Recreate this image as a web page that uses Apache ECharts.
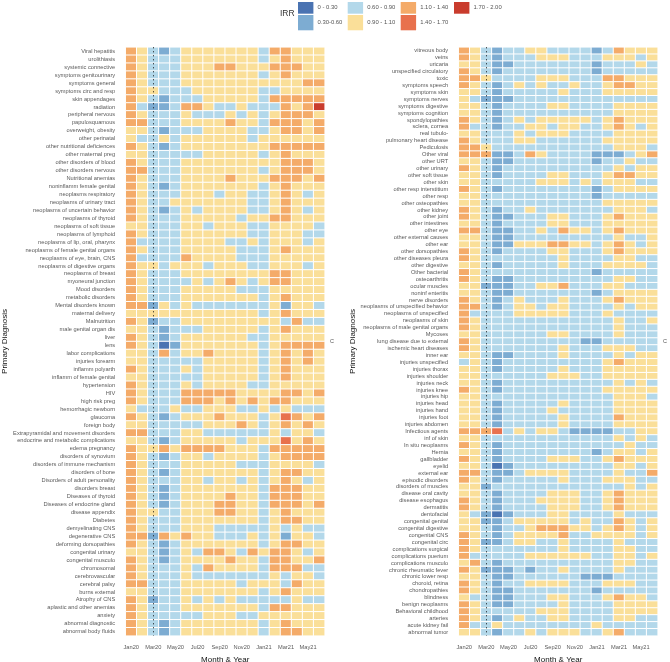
<!DOCTYPE html>
<html><head><meta charset="utf-8">
<style>html,body{margin:0;padding:0;background:#fff}#c{width:670px;height:662px}</style>
<script src="https://cdn.jsdelivr.net/npm/echarts@6/dist/echarts.min.js"></script>
</head><body><div id="c"></div>
<script>
const months = ['Jan20','Feb20','Mar20','Apr20','May20','Jun20','Jul20','Aug20','Sep20','Oct20','Nov20','Dec20','Jan21','Feb21','Mar21','Apr21','May21','Jun21'];
const binLabels = ['0 - 0.30','0.30-0.60','0.60 - 0.90','0.90 - 1.10','1.10 - 1.40','1.40 - 1.70','1.70 - 2.00'];
const binEdges = [0,0.3,0.6,0.9,1.1,1.4,1.7,2.0];
const binColors = ['#4a73b2','#7dacd2','#b3d8ea','#fadf99','#f4ab69','#e8714d','#c93c2d'];
const binMid = {1:0.2,2:0.45,3:0.75,4:1.0,5:1.25,6:1.55,7:1.85};

const leftNames = ['Viral hepatitis','urolithiasis','systemic connective','symptoms genitourinary','symptoms general','symptoms circ and resp','skin appendages','radiation','peripheral nervous','papulosquamous','overweight, obesity','other perinatal','other nutritional deficiences','other maternal preg','other disorders of blood','other disorders nervous','Nutritional anemias','noninflamm female genital','neoplasms respiratory','neoplasms of urinary tract','neoplasms of uncertain behavior','neoplasms of thyroid','neoplasms of soft tissue','neoplasms of lymphoid','neoplasms of lip, oral, pharynx','neoplasms of female genital organs','neoplasms of eye, brain, CNS','neoplasms of digestive organs','neoplasms of breast','myoneural junction','Mood disorders','metabolic disorders','Mental disorders known','maternal delivery','Malnutrition','male genital organ dis','liver','lens','labor complications','injuries forearm','inflamm polyarth','inflamm of female genital','hypertension','HIV','high risk preg','hemorrhagic newborn','glaucoma','foreign body','Extrapyramidal and movement disorders','endocrine and metabolic complications','edema pregnancy','disorders of synovium','disorders of immune mechanism','disorders of bone','Disorders of adult personality','disorders breast','Diseases of thyroid','Diseases of endocrine gland','disease appendix','Diabetes','demyelinating CNS','degenerative CNS','deforming dorsopathies','congenital urinary','congenital musculo','chromosomal','cerebrovascular','cerebral palsy','burns external','Atrophy of CNS','aplastic and other anemias','anxiety','abnormal diagnostic','abnormal body fluids'];
const leftBins = ['543234444444355444','543334444444345444','543334445544455544','543334444444345444','543334444444444455','544333444444334444','543233344444355555','532235543343335457','543334333434345554','553334444544355545','443233344443345545','433434444443444444','543234444444455555','443333344444345444','543334444444445554','553334444444345554','543334444544455545','543234444444345444','543334443443345434','543344444443345444','543234344443345434','543334444434455444','443334434443344443','543334444443344433','533334444334344434','543334444433345444','533335444433344444','544344434443344434','543334444444455444','543333434543455444','543334444433344444','543334444444345444','552434333333342443','444444444444345444','542334444444443533','443233344444345444','543234444443344444','543124444444345555','443534454444345454','443333344444345454','543334344444345444','443333344444345444','543334344443344444','543335555544445545','543335554545455444','433343344433434333','543234445444346545','443333344454345454','553334433333343443','443234444434446454','544545555444355555','543234434444345555','543334444433344443','543234444444345544','543334434434345434','543234444444355544','543234444544355544','543234445544355545','544334445544345444','543334444444345544','543334443333343433','552545443334342443','543234444444345544','443234355435455434','543234444544355445','543334354444355533','543334333333343443','553334444434443544','443334444444345444','542334343433333433','543334444444355444','543333344433444444','543234444444345444','543234444444345544'];

const rightNames = ['vitreous body','veins','uricaria','unspecified circulatory','toxic','symptoms speech','symptoms skin','symptoms nerves','symptoms digestive','symptoms cognition','spondylopathies','sclera, cornea','real tubulo-','pulmonary heart disease','Pediculosis','Other viral','other URT','other urinary','other soft tissue','other skin','other resp interstitium','other resp','other osteopathies','other kidney','other joint','other intestines','other eye','other external causes','other ear','other dorsopathies','other diseases pleura','other digestive','Other bacterial','osteoarthritis','ocular muscles','noninf enteritis','nerve disorders','neoplasms of unspecified behavior','neoplasms of unspecified','neoplasms of skin','neoplasms of male genital organs','Mycoses','lung disease due to external','ischemic heart diseases','inner ear','injuries unspecified','injuries thorax','injuries shoulder','injuries neck','injuries knee','injuries hip','injuries head','injuries hand','injuries foot','injuries abdomen','Infectious agents','inf of skin','In situ neoplasms','Hernia','gallbladder','eyelid','external ear','episodic disorders','disorders of muscles','disease oral cavity','disease esophagus','dermatitis','dentofacial','congenital genital','congenital digestive','congenital CNS','congenital circ','complications surgical','complications puerium','complications musculo','chronic rheumatic fever','chronic lower resp','choroid, retina','chondropathies','blindness','benign neoplasms','Behavioral childhood','arteries','acute kidney fail','abnormal tumor'];
const rightBins = ['543233443333235444','543233344433344434','443223333333233343','543233333333233333','554333344433355444','543234343343345544','443233333433344444','432223333333333333','443233334433334444','443233333333334444','543234344444345444','533233443443345434','443334344433334444','543334433333344444','554333333333334443','555223543333222345','443223333333233433','543233333333334344','443233334433345544','443333344434344433','543233333333234444','443333333333233333','443333333333344444','543233433333334443','543223334433345444','443233334433344444','553223343544345444','443223333333334334','443224445544345434','543233334433345444','543333333433334433','443233333433344443','543333333333233333','543223333333334433','442223344533344333','443223333333234444','543234333433345444','553234434433334344','533334444433343333','543333333333334334','543333333333334333','443333334433334333','543333333332233333','543333333433344433','443223333433334344','343233333333345444','443233333433344444','443333334443344444','443233333333334343','543233333333344444','443333333333334443','443233333433334444','443233334333334444','443233333433335444','443233333433334444','555634344322223344','443333333333334343','543233333333333433','443233333333234434','543233334443345444','443123333333334434','553223444433334335','543233333433344433','442333333333333434','443233334443345444','543233344443345444','543233334443345444','432123334433334333','442234444434335434','443233455544345434','543234444533444434','542234433433334333','543333333433334433','533333444444334434','453233333333334433','542223233433334333','443223333332223333','543233444433344433','543223333333233333','433223334433345443','543223333433334444','543333344433334444','543234334433334433','533433333333433333','443233434443345333'];

const font = 'Liberation Sans, Arial, sans-serif';
const toCells = bins => bins.flatMap((row, y) => row.split('').map((d, x) => [x, y, binMid[d]]));

function xAxis(i) {
  return { type:'category', gridIndex:i, data:months, axisLine:{show:false}, axisTick:{show:false}, splitLine:{show:false},
    axisLabel:{interval:1, fontSize:5.7, color:'#5a5a5a', fontFamily:font, margin:9},
    name:'Month & Year', nameLocation:'middle', nameGap:17.5, nameTextStyle:{fontSize:8, color:'#111', fontFamily:font} };
}
function yAxis(i, names, gap) {
  return { type:'category', gridIndex:i, data:names, inverse:true, axisLine:{show:false}, axisTick:{show:false}, splitLine:{show:false},
    axisLabel:{interval:0, fontSize:5.7, color:'#5a5a5a', fontFamily:font, margin:10.5},
    name:'Primary Diagnosis', nameLocation:'middle', nameGap:gap, nameRotate:90, nameTextStyle:{fontSize:8, color:'#111', fontFamily:font} };
}
function series(i, bins) {
  return { type:'heatmap', xAxisIndex:i, yAxisIndex:i, data:toCells(bins), progressive:0, animation:false,
    itemStyle:{borderColor:'#fff', borderWidth:1}, emphasis:{disabled:true},
    markLine:{ silent:true, symbol:'none', label:{show:false}, animation:false,
      lineStyle:{color:'#111', type:[1,3], width:1}, data:[{xAxis:'Mar20'}] } };
}

const legendX = [298,347.7,400.7,454];
const legendRows = [[2,11.7],[15,15.3]];
const legendCells = [[0,0],[0,1],[1,0],[1,1],[2,0],[2,1],[3,0]];
const graphic = [{ type:'text', x:280, y:14, style:{text:'IRR', font:'8.5px '+font, fill:'#333', textVerticalAlign:'middle'} }];
legendCells.forEach(([c,r], i) => {
  graphic.push({ type:'rect', shape:{x:legendX[c], y:legendRows[r][0], width:15.4, height:legendRows[r][1]}, style:{fill:binColors[i]} });
  graphic.push({ type:'text', x:legendX[c]+19.5, y:legendRows[r][0]+legendRows[r][1]/2, style:{text:binLabels[i], font:'5.9px '+font, fill:'#555', textVerticalAlign:'middle'} });
});
graphic.push({ type:'text', x:332, y:341, style:{text:'C', font:'5.5px '+font, fill:'#555', textAlign:'center', textVerticalAlign:'middle'} });
graphic.push({ type:'text', x:665, y:341, style:{text:'C', font:'5.5px '+font, fill:'#555', textAlign:'center', textVerticalAlign:'middle'} });

const chart = echarts.init(document.getElementById('c'), null, {renderer:'canvas'});
chart.setOption({
  backgroundColor:'#fff', animation:false,
  grid:[
    {left:125.7, top:47.3, width:199, height:588.4, outerBoundsMode:'none'},
    {left:458.7, top:47.3, width:199, height:588.4, outerBoundsMode:'none'}
  ],
  xAxis:[xAxis(0), xAxis(1)],
  yAxis:[yAxis(0,leftNames,114.5), yAxis(1,rightNames,101.5)],
  visualMap:{ show:false, type:'piecewise', seriesIndex:[0,1], dimension:2,
    pieces:binColors.map((color,i)=>({gte:binEdges[i], lt:binEdges[i+1], color})) },
  series:[series(0,leftBins), series(1,rightBins)],
  graphic
});
</script></body></html>
